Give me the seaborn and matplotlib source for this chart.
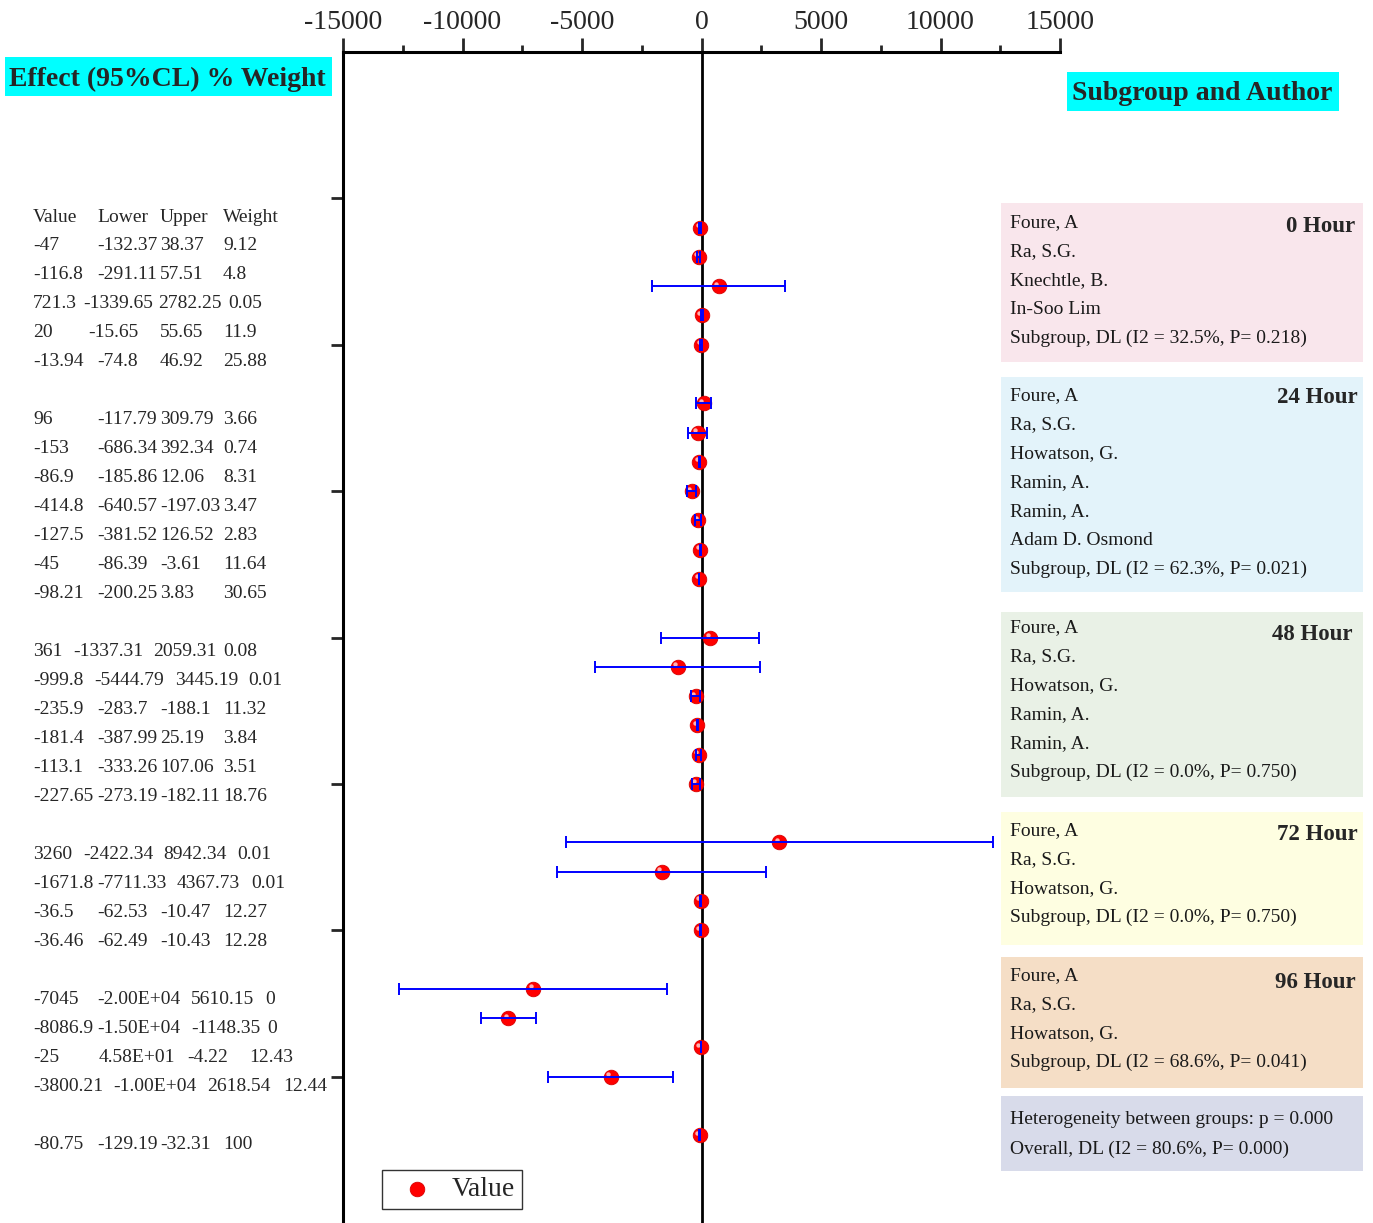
import numpy as np
import pandas as pd
import matplotlib
matplotlib.use("Agg")
import matplotlib.pyplot as plt
import seaborn as sns
from matplotlib.patches import Rectangle
from matplotlib.ticker import MultipleLocator
from matplotlib.transforms import ScaledTranslation

# ---------------- data ----------------
groups = ["0 Hour", "24 Hour", "48 Hour", "72 Hour", "96 Hour", "Overall"]
group_sizes = [5, 7, 6, 4, 4, 1]

values = [-47, -116.8, 721.3, 20, -13.94,
          96, -153, -86.9, -414.8, -127.5, -45, -98.21,
          361, -999.8, -235.9, -181.4, -113.1, -227.65,
          3260, -1671.8, -36.5, -36.46,
          -7045, -8086.9, -25, -3800.21,
          -80.75]
lower_txt = ["-132.37", "-291.11", "-1339.65", "-15.65", "-74.8",
             "-117.79", "-686.34", "-185.86", "-640.57", "-381.52", "-86.39", "-200.25",
             "-1337.31", "-5444.79", "-283.7", "-387.99", "-333.26", "-273.19",
             "-2422.34", "-7711.33", "-62.53", "-62.49",
             "-2.00E+04", "-1.50E+04", "4.58E+01", "-1.00E+04",
             "-129.19"]
upper = [38.37, 57.51, 2782.25, 55.65, 46.92,
         309.79, 392.34, 12.06, -197.03, 126.52, -3.61, 3.83,
         2059.31, 3445.19, -188.1, 25.19, 107.06, -182.11,
         8942.34, 4367.73, -10.47, -10.43,
         5610.15, -1148.35, -4.22, 2618.54,
         -32.31]
weights = [9.12, 4.8, 0.05, 11.9, 25.88,
           3.66, 0.74, 8.31, 3.47, 2.83, 11.64, 30.65,
           0.08, 0.01, 11.32, 3.84, 3.51, 18.76,
           0.01, 0.01, 12.27, 12.28,
           0, 0, 12.43, 12.44,
           100]
table_header = ["Value", "Lower", "Upper", "Weight"]

authors_0h = ["Foure, A", "Ra, S.G.", "Knechtle, B.", "In-Soo Lim",
              "Subgroup, DL (I2 = 32.5%, P= 0.218)"]
authors_24h = ["Foure, A", "Ra, S.G.", "Howatson, G.", "Ramin, A.", "Ramin, A.",
               "Adam D. Osmond", "Subgroup, DL (I2 = 62.3%, P= 0.021)"]
authors_48h = ["Foure, A", "Ra, S.G.", "Howatson, G.", "Ramin, A.", "Ramin, A.",
               "Subgroup, DL (I2 = 0.0%, P= 0.750)"]
authors_72h = ["Foure, A", "Ra, S.G.", "Howatson, G.",
               "Subgroup, DL (I2 = 0.0%, P= 0.750)"]
authors_96h = ["Foure, A", "Ra, S.G.", "Howatson, G.",
               "Subgroup, DL (I2 = 68.6%, P= 0.041)"]
overall_lines = ["Heterogeneity between groups: p = 0.000",
                 "Overall, DL (I2 = 80.6%, P= 0.000)"]

x_ticks = [-15000, -10000, -5000, 0, 5000, 10000, 15000]

# ---------------- layout ----------------
W, H = 1373, 1223
sns.set_style("ticks")
plt.rcParams["font.family"] = ["Liberation Serif", "DejaVu Serif"]
plt.rcParams["mathtext.default"] = "regular"

fig = plt.figure(figsize=(W / 100, H / 100), dpi=100)
fig.patch.set_facecolor("white")

def fx(x):
    return x / W

def fy(y):
    return 1 - y / H

ax_left, ax_right, ax_top = 343, 1060, 52
ax = fig.add_axes([fx(ax_left), 0, (ax_right - ax_left) / W, 1 - ax_top / H])

# row positions (a blank row separates groups)
rows = []
r = 1
for n in group_sizes:
    rows.extend(range(r, r + n))
    r += n + 1

df = pd.DataFrame({"value": values, "row": rows,
                   "err": np.abs(upper)})

err = ax.errorbar(df["value"], df["row"], xerr=df["err"], fmt="none",
                  ecolor="#0000ff", elinewidth=1.4, capsize=4.5, capthick=1.4)
err[2][0].set_zorder(4)
for c in err[1]:
    c.set_zorder(4)

sns.scatterplot(data=df, x="value", y="row", ax=ax, color="#ff0000",
                s=110, edgecolor="#d80000", linewidth=0.6, zorder=3,
                label="Value")
# small glossy highlight on each ball
ax.scatter(df["value"], df["row"], s=10, color="#ffd0d0", alpha=0.85,
           linewidths=0, zorder=3.5,
           transform=ax.transData + ScaledTranslation(-2.5 / 100, 2.5 / 100,
                                                      fig.dpi_scale_trans))

ax.axvline(0, color="black", lw=2, zorder=1)

ax.set_xlim(-15000, 15000)
ax.set_ylim(35, -5)
ax.xaxis.tick_top()
ax.set_xticks(x_ticks)
ax.set_xticklabels([str(t) for t in x_ticks])
ax.xaxis.set_minor_locator(MultipleLocator(2500))
ax.tick_params(axis="x", which="major", direction="out", length=10, width=2,
               labelsize=20, pad=2.5, top=True, bottom=False)
ax.tick_params(axis="x", which="minor", direction="out", length=5, width=2,
               top=True, bottom=False)
ax.set_yticks(range(0, 31, 5))
ax.set_yticklabels([])
ax.tick_params(axis="y", direction="out", length=9, width=2, left=True)
for s in ["right", "bottom"]:
    ax.spines[s].set_visible(False)
for s in ["top", "left"]:
    ax.spines[s].set_linewidth(2.2)
    ax.spines[s].set_color("black")
ax.set_xlabel("")
ax.set_ylabel("")

leg = ax.legend(loc="lower left", bbox_to_anchor=(fx(382), fy(1209)),
                bbox_transform=fig.transFigure, frameon=True, fancybox=False,
                fontsize=20, handletextpad=0.25, borderpad=0.25,
                handlelength=2.0, borderaxespad=0)
leg.get_frame().set_edgecolor("black")
leg.get_frame().set_linewidth(1.0)

# ---------------- left table ----------------
fs = 14
dy = 2
col_std = [33, 97, 160, 223]
col_special = {2: [33, 83, 158, 228], 3: [33, 88, 160, 223],
               12: [33, 73, 153, 223], 13: [33, 94, 175, 248],
               18: [33, 83, 163, 237], 19: [33, 97, 177, 251],
               22: [33, 97, 191, 265], 23: [33, 97, 191, 267],
               24: [33, 99, 187, 249], 25: [33, 113, 207, 283]}
row0_y, row_step = 244, 28.97
for j, h in enumerate(table_header):
    fig.text(fx(col_std[j]), fy(216 + dy), h, fontsize=fs, va="center", ha="left")
for k in range(len(values)):
    y = row0_y + (rows[k] - 1) * row_step + dy
    xs = col_special.get(k, col_std)
    cells = [f"{values[k]:g}", lower_txt[k], f"{upper[k]:g}", f"{weights[k]:g}"]
    for x, t in zip(xs, cells):
        fig.text(fx(x), fy(y), t, fontsize=fs, va="center", ha="left")

# ---------------- header boxes ----------------
def box(x0, y0, x1, y1, color):
    fig.patches.append(Rectangle((fx(x0), fy(y1)), (x1 - x0) / W, (y1 - y0) / H,
                                 transform=fig.transFigure, facecolor=color,
                                 edgecolor="none", zorder=1))

box(5, 57, 332, 96, "#00ffff")
fig.text(fx(9), fy(77 + dy), "Effect (95%CL) % Weight", fontsize=20,
         fontweight="bold", va="center", ha="left")
box(1067, 72, 1339, 111, "#00ffff")
fig.text(fx(1072), fy(92 + dy), "Subgroup and Author", fontsize=20,
         fontweight="bold", va="center", ha="left")

# ---------------- right subgroup boxes ----------------
box_specs = [  # (top, bottom, first line y, hour label y, hour right x, color)
    (203, 362, 221, 224, 1355, "#f9e6ec"),
    (377, 592, 394, 396, 1358, "#e3f3fa"),
    (612, 797, 626, 632, 1353, "#e9f1e6"),
    (812, 945, 829, 833, 1358, "#fefee1"),
    (957, 1088, 974, 980, 1356, "#f5dec6"),
    (1096, 1171, 1118, None, None, "#d8dbea"),
]
box_lines = [authors_0h, authors_24h, authors_48h, authors_72h, authors_96h,
             overall_lines]
for (top, bot, ly, hy, hx, col), lines, g in zip(box_specs, box_lines, groups):
    box(1001, top, 1363, bot, col)
    for i, t in enumerate(lines):
        fig.text(fx(1010), fy(ly + i * 28.9 + dy), t, fontsize=fs, va="center",
                 ha="left", color="#1a1a1a")
    if hy is not None:
        fig.text(fx(hx), fy(hy + dy), g, fontsize=16.5, fontweight="bold",
                 va="center", ha="right")

fig.savefig("out.png", dpi=100)
